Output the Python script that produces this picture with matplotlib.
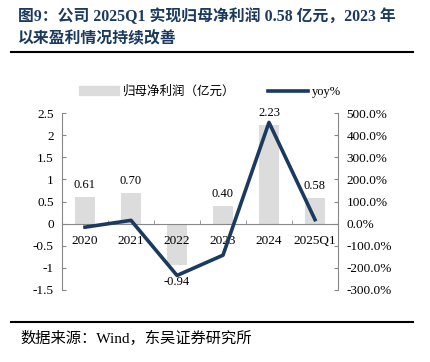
import matplotlib
matplotlib.use('Agg')
import matplotlib.pyplot as plt
from matplotlib.patches import Patch
from matplotlib.lines import Line2D

categories = ['2020', '2021', '2022', '2023', '2024', '2025Q1']
profit = [0.61, 0.70, -0.94, 0.40, 2.23, 0.58]
yoy = [-16.0, 14.8, -234.3, -142.6, 457.5, 18.0]
profit_labels = ['0.61', '0.70', '-0.94', '0.40', '2.23', '0.58']

serif = ['Liberation Serif', 'Noto Sans CJK SC']
bar_color = '#DCDCDC'
line_color = '#1B3A5F'

fig = plt.figure(figsize=(4.31, 3.62), dpi=100)
W, H = 431, 362
ax = fig.add_axes([62 / W, 1 - 290 / H, (338 - 62) / W, (290 - 113) / H])
ax2 = ax.twinx()

x = list(range(len(categories)))
ax.bar(x, profit, width=0.42, color=bar_color, zorder=1)
ax.set_xlim(-0.5, 5.5)
ax.set_ylim(-1.5, 2.5)
ax.set_yticks([-1.5, -1, -0.5, 0, 0.5, 1, 1.5, 2, 2.5])
ax.set_yticklabels(['-1.5', '-1', '-0.5', '0', '0.5', '1', '1.5', '2', '2.5'])

# data labels on the bars
for i, (v, t) in enumerate(zip(profit, profit_labels)):
    if v >= 0:
        ax.text(i, v + 0.13, t, ha='center', va='bottom', fontsize=9, family=serif)
    else:
        ax.text(i, v - 0.24, t, ha='center', va='top', fontsize=9, family=serif)

ax2.plot(x, yoy, color=line_color, linewidth=2.6, zorder=3)
ax2.set_ylim(-300, 500)
ax2.set_yticks([-300, -200, -100, 0, 100, 200, 300, 400, 500])
ax2.set_yticklabels([f'{v:.1f}%' for v in [-300, -200, -100, 0, 100, 200, 300, 400, 500]])

# spines and ticks
for a in (ax, ax2):
    a.spines['top'].set_visible(False)
    a.spines['left'].set_color('#888888')
    a.spines['right'].set_color('#888888')
    a.spines['bottom'].set_color('#888888')
    a.tick_params(axis='y', direction='in', length=3, color='#888888', labelsize=9.5, pad=6)
    for lab in a.get_yticklabels():
        lab.set_family(serif)
ax.spines['right'].set_visible(False)
ax2.spines['left'].set_visible(False)
ax2.spines['bottom'].set_visible(False)
ax.spines['bottom'].set_position(('data', 0))

ax.set_xticks(x)
ax.set_xticklabels(categories)
ax.tick_params(axis='x', length=0, labelsize=9.5, pad=8)
for lab in ax.get_xticklabels():
    lab.set_family(serif)
ax.set_xticks([i + 0.5 for i in range(len(categories) - 1)], minor=True)
ax.tick_params(axis='x', which='minor', direction='in', length=3, color='#888888')

# legend
handles = [Patch(color=bar_color, label='归母净利润（亿元）'),
           Line2D([0], [0], color=line_color, linewidth=2.6, label='yoy%')]
fig.legend(handles=handles, loc='center', bbox_to_anchor=(210 / W, 1 - 92 / H), ncol=2,
           frameon=False, prop={'family': serif, 'size': 9}, handlelength=3.2,
           handletextpad=0.3, columnspacing=2.6)

# title and source
fig.text(18 / W, 1 - 17 / H, '图9：公司 2025Q1 实现归母净利润 0.58 亿元，2023 年',
         fontsize=11.4, fontweight='bold', color='#1B3A5F', family=serif, va='center')
fig.text(18 / W, 1 - 39 / H, '以来盈利情况持续改善',
         fontsize=11.4, fontweight='bold', color='#1B3A5F', family=serif, va='center')
fig.add_artist(Line2D([11 / W, 413 / W], [1 - 52 / H, 1 - 52 / H], color='black', linewidth=1.5))
fig.add_artist(Line2D([11 / W, 413 / W], [1 - 322 / H, 1 - 322 / H], color='black', linewidth=1.5))
fig.text(20 / W, 1 - 338 / H, '数据来源：Wind，东吴证券研究所', fontsize=11, family=serif, va='center')

fig.savefig('out.png', dpi=100)
